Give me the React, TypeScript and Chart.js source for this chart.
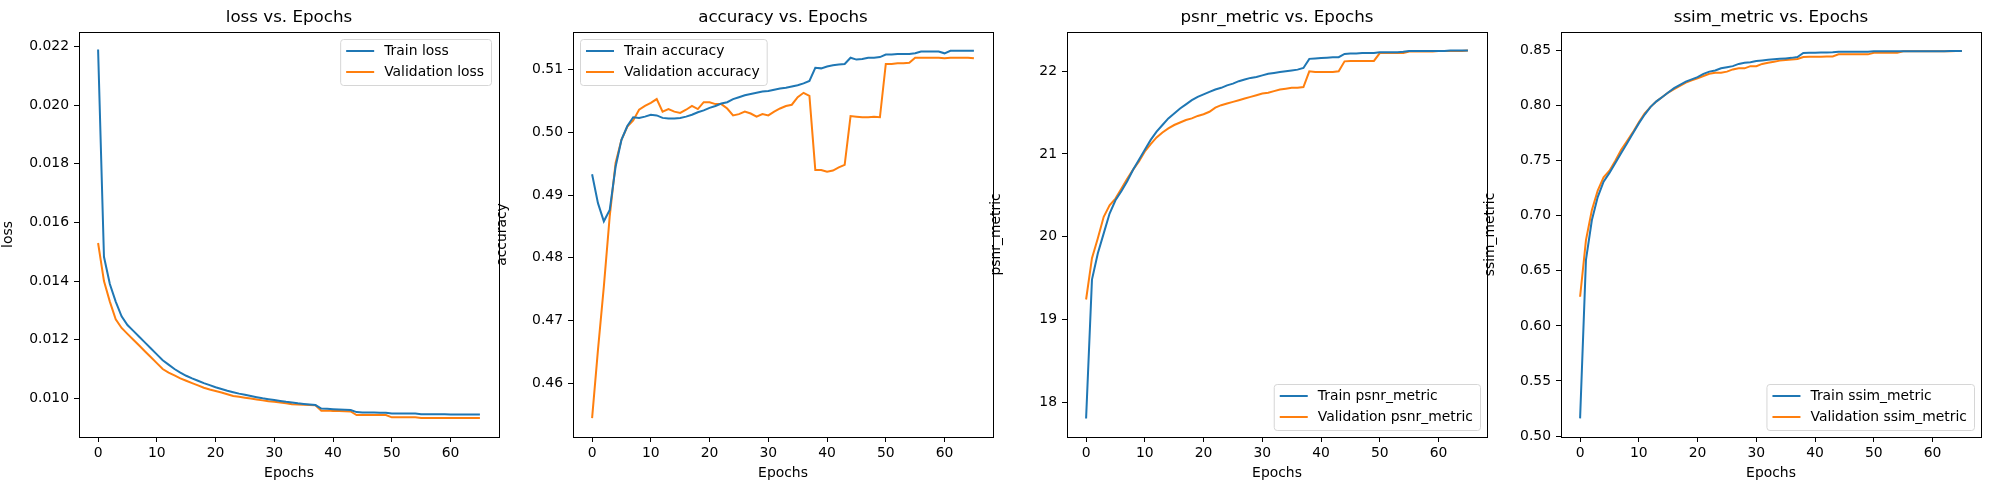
import React, { useEffect, useRef } from 'react';
import { Chart, registerables } from 'chart.js';

Chart.register(...registerables);

const epochs = Array.from({ length: 66 }, (_, i) => i);

const trainLoss = [
  0.0219, 0.01483, 0.0139, 0.0133, 0.0128, 0.0125, 0.0123, 0.0121, 0.0119, 0.0117,
  0.0115, 0.0113, 0.01115, 0.011, 0.01088, 0.01077, 0.01068, 0.0106, 0.01052, 0.01045,
  0.01038, 0.01032, 0.01026, 0.01021, 0.01016, 0.01012, 0.01008, 0.01004, 0.01, 0.00997,
  0.00994, 0.00991, 0.00988, 0.00986, 0.00983, 0.00981, 0.00979, 0.00977, 0.00965, 0.00964,
  0.00963, 0.00962, 0.00961, 0.0096, 0.00953, 0.00952, 0.00952, 0.00952, 0.00951, 0.00951,
  0.00948, 0.00948, 0.00948, 0.00948, 0.00948, 0.00946, 0.00946, 0.00946, 0.00946, 0.00946,
  0.00945, 0.00945, 0.00945, 0.00945, 0.00945, 0.00945,
];
const valLoss = [
  0.0153, 0.014, 0.0133, 0.0127, 0.0124, 0.0122, 0.012, 0.0118, 0.0116, 0.0114,
  0.0112, 0.011, 0.01088, 0.01078, 0.01068, 0.0106, 0.01052, 0.01044, 0.01036, 0.0103,
  0.01025, 0.0102, 0.01014, 0.01008, 0.01005, 0.01002, 0.00999, 0.00996, 0.00993, 0.0099,
  0.00988, 0.00986, 0.00983, 0.0098, 0.00979, 0.00978, 0.00977, 0.00976, 0.00958, 0.00958,
  0.00957, 0.00957, 0.00956, 0.00955, 0.00943, 0.00943, 0.00943, 0.00943, 0.00943, 0.00943,
  0.00935, 0.00935, 0.00935, 0.00935, 0.00935, 0.00933, 0.00933, 0.00933, 0.00933, 0.00933,
  0.00933, 0.00933, 0.00933, 0.00933, 0.00933, 0.00933,
];
const trainAcc = [
  0.4933, 0.4887, 0.4858, 0.4876, 0.4945, 0.4988, 0.501, 0.5024, 0.5023, 0.5025,
  0.5028, 0.5027, 0.5023, 0.5022, 0.5022, 0.5023, 0.5025, 0.5028, 0.5032, 0.5035,
  0.5039, 0.5042, 0.5046, 0.5048, 0.5053, 0.5056, 0.5059, 0.5061, 0.5063, 0.5065,
  0.5066, 0.5068, 0.507, 0.5071, 0.5073, 0.5075, 0.5078, 0.5082, 0.5103, 0.5102,
  0.5105, 0.5107, 0.5108, 0.5109, 0.5119, 0.5116, 0.5117, 0.5119, 0.5119, 0.512,
  0.5124, 0.5124, 0.5125, 0.5125, 0.5125, 0.5126, 0.5129, 0.5129, 0.5129, 0.5129,
  0.5126, 0.513, 0.513, 0.513, 0.513, 0.513,
];
const valAcc = [
  0.4544, 0.4653, 0.4754, 0.4866, 0.4951, 0.4988, 0.5009, 0.5019, 0.5036, 0.5042,
  0.5047, 0.5053, 0.5033, 0.5037, 0.5033, 0.5031, 0.5036, 0.5042, 0.5037, 0.5048,
  0.5048, 0.5045, 0.5045, 0.5038, 0.5027, 0.5029, 0.5033, 0.503, 0.5025, 0.5029,
  0.5027, 0.5033, 0.5038, 0.5042, 0.5044, 0.5056, 0.5063, 0.5058, 0.494, 0.494,
  0.4937, 0.4939, 0.4944, 0.4948, 0.5026, 0.5025, 0.5024, 0.5024, 0.5025, 0.5024,
  0.5109, 0.5109, 0.511, 0.511, 0.5111, 0.5119, 0.5119, 0.5119, 0.5119, 0.5119,
  0.5118, 0.5119, 0.5119, 0.5119, 0.5119, 0.5118,
];
const trainPsnr = [
  17.8, 19.48, 19.8, 20.04, 20.28, 20.44, 20.55, 20.67, 20.81, 20.93,
  21.05, 21.17, 21.27, 21.35, 21.43, 21.49, 21.55, 21.6, 21.65, 21.69,
  21.72, 21.75, 21.78, 21.8, 21.83, 21.85, 21.88, 21.9, 21.92, 21.93,
  21.95, 21.97, 21.98, 21.99, 22.0, 22.01, 22.02, 22.04, 22.15, 22.155,
  22.16, 22.165, 22.17, 22.17, 22.21, 22.215, 22.215, 22.22, 22.22, 22.22,
  22.23, 22.23, 22.23, 22.23, 22.235, 22.245, 22.245, 22.245, 22.245, 22.245,
  22.245, 22.245, 22.25, 22.25, 22.25, 22.25,
];
const valPsnr = [
  19.24, 19.74, 19.98, 20.24, 20.38, 20.46, 20.58, 20.7, 20.81, 20.91,
  21.03, 21.12, 21.2, 21.26, 21.31, 21.35, 21.38, 21.41, 21.43, 21.46,
  21.48, 21.51, 21.56, 21.59, 21.61, 21.63, 21.65, 21.67, 21.69, 21.71,
  21.73, 21.74, 21.76, 21.78, 21.79, 21.8, 21.8, 21.81, 22.0, 21.99,
  21.99, 21.99, 21.99, 22.0, 22.12, 22.125, 22.125, 22.125, 22.125, 22.125,
  22.22, 22.22, 22.22, 22.22, 22.22, 22.24, 22.24, 22.24, 22.24, 22.24,
  22.245, 22.245, 22.245, 22.245, 22.245, 22.25,
];
const trainSsim = [
  0.516, 0.66, 0.696, 0.717, 0.731, 0.739, 0.748, 0.757, 0.766, 0.775,
  0.784, 0.792, 0.799, 0.804, 0.808, 0.812, 0.816, 0.819, 0.822, 0.824,
  0.826, 0.829, 0.831, 0.832, 0.834, 0.835, 0.836, 0.838, 0.839, 0.8395,
  0.8406, 0.8412, 0.8418, 0.8422, 0.8426, 0.843, 0.8435, 0.8443, 0.848, 0.8482,
  0.8482, 0.8483, 0.8484, 0.8485, 0.849, 0.849, 0.849, 0.849, 0.849, 0.849,
  0.8494, 0.8494, 0.8494, 0.8494, 0.8494, 0.8494, 0.8494, 0.8494, 0.8494, 0.8494,
  0.8495, 0.8496, 0.8496, 0.8497, 0.8497, 0.8497,
];
const valSsim = [
  0.6265, 0.678, 0.705, 0.723, 0.735, 0.741, 0.75, 0.76, 0.768, 0.776,
  0.785, 0.793, 0.799, 0.804, 0.808, 0.812, 0.815, 0.818, 0.821, 0.823,
  0.825, 0.827, 0.829, 0.83, 0.83, 0.831, 0.833, 0.834, 0.834, 0.836,
  0.836, 0.838, 0.839, 0.84, 0.841, 0.8415, 0.842, 0.8425, 0.8443, 0.8446,
  0.8446, 0.8446, 0.8448, 0.8448, 0.8467, 0.8467, 0.8467, 0.8467, 0.8467, 0.8467,
  0.8482, 0.8482, 0.8482, 0.8482, 0.8482, 0.8494, 0.8494, 0.8494, 0.8494, 0.8494,
  0.8494, 0.8495, 0.8495, 0.8496, 0.8497, 0.8497,
];

const xTicks = [0, 10, 20, 30, 40, 50, 60];
const lossTicks = [0.01, 0.012, 0.014, 0.016, 0.018, 0.02, 0.022];
const accTicks = [0.46, 0.47, 0.48, 0.49, 0.5, 0.51];
const psnrTicks = [18, 19, 20, 21, 22];
const ssimTicks = [0.5, 0.55, 0.6, 0.65, 0.7, 0.75, 0.8, 0.85];

type Panel = {
  metric: string;
  train: number[];
  val: number[];
  ticks: number[];
  decimals: number;
  min: number;
  max: number;
  legend: 'ur' | 'ul' | 'lr';
  plotLeft: number;
};

const panels: Panel[] = [
  { metric: 'loss', train: trainLoss, val: valLoss, ticks: lossTicks, decimals: 3, min: 0.00868, max: 0.0225, legend: 'ur', plotLeft: 79 },
  { metric: 'accuracy', train: trainAcc, val: valAcc, ticks: accTicks, decimals: 2, min: 0.4514, max: 0.516, legend: 'ul', plotLeft: 573 },
  { metric: 'psnr_metric', train: trainPsnr, val: valPsnr, ticks: psnrTicks, decimals: 0, min: 17.577, max: 22.475, legend: 'lr', plotLeft: 1067 },
  { metric: 'ssim_metric', train: trainSsim, val: valSsim, ticks: ssimTicks, decimals: 2, min: 0.4991, max: 0.867, legend: 'lr', plotLeft: 1561 },
];

const FONT = "'DejaVu Sans', sans-serif";
const BLUE = '#1f77b4';
const ORANGE = '#ff7f0e';

function PanelChart({ p }: { p: Panel }): React.JSX.Element {
  const canvasRef = useRef<HTMLCanvasElement | null>(null);

  useEffect(() => {
    if (!canvasRef.current) return;
    const labels = [`Train ${p.metric}`, `Validation ${p.metric}`];

    const framePlugin = {
      id: 'frame',
      afterDraw(chart: Chart) {
        const { ctx, chartArea: a } = chart;
        ctx.save();
        ctx.strokeStyle = '#000';
        ctx.lineWidth = 1;
        ctx.strokeRect(Math.round(a.left) + 0.5, Math.round(a.top) + 0.5, Math.round(a.right - a.left), Math.round(a.bottom - a.top));
        // title
        ctx.fillStyle = '#000';
        ctx.font = `16.7px ${FONT}`;
        ctx.textAlign = 'center';
        ctx.textBaseline = 'middle';
        ctx.fillText(`${p.metric} vs. Epochs`, (a.left + a.right) / 2, 18);
        // legend
        ctx.font = `13.9px ${FONT}`;
        const textW = Math.max(...labels.map((l) => ctx.measureText(l).width));
        const w = 6 + 28 + 10 + textW + 7;
        const h = 46;
        let bx = a.right - 8 - w;
        let by = a.top + 7;
        if (p.legend === 'ul') bx = a.left + 7;
        if (p.legend === 'lr') {
          bx = a.right - 7 - w;
          by = a.bottom - 7 - h;
        }
        ctx.beginPath();
        ctx.roundRect(bx + 0.5, by + 0.5, w, h, 3);
        ctx.fillStyle = 'rgba(255,255,255,0.8)';
        ctx.fill();
        ctx.strokeStyle = '#d6d6d6';
        ctx.stroke();
        ctx.textAlign = 'left';
        [BLUE, ORANGE].forEach((c, i) => {
          const cy = by + 12 + i * 21;
          ctx.strokeStyle = c;
          ctx.lineWidth = 2;
          ctx.beginPath();
          ctx.moveTo(bx + 6, cy);
          ctx.lineTo(bx + 34, cy);
          ctx.stroke();
          ctx.fillStyle = '#000';
          ctx.fillText(labels[i], bx + 44, cy);
        });
        ctx.restore();
      },
    };

    const chart = new Chart(canvasRef.current, {
      type: 'line',
      data: {
        labels: epochs,
        datasets: [
          { label: labels[0], data: epochs.map((e, i) => ({ x: e, y: p.train[i] })), borderColor: BLUE, borderWidth: 2, pointRadius: 0, fill: false, tension: 0 },
          { label: labels[1], data: epochs.map((e, i) => ({ x: e, y: p.val[i] })), borderColor: ORANGE, borderWidth: 2, pointRadius: 0, fill: false, tension: 0 },
        ],
      },
      options: {
        responsive: false,
        animation: false,
        devicePixelRatio: 1,
        layout: { padding: { top: 32, right: 10, left: 0, bottom: 0 } },
        plugins: { legend: { display: false }, title: { display: false }, tooltip: { enabled: false } },
        scales: {
          x: {
            type: 'linear',
            min: -3.25,
            max: 68.25,
            afterBuildTicks: (s: any) => { s.ticks = xTicks.map((v) => ({ value: v })); },
            afterFit: (s: any) => { s.height = 53; },
            border: { display: false },
            grid: { display: true, drawOnChartArea: false, drawTicks: true, tickLength: 5, tickColor: '#000' },
            ticks: { color: '#000', font: { family: FONT, size: 13.9 }, padding: 3, maxRotation: 0 },
            title: { display: true, text: 'Epochs', color: '#000', font: { family: FONT, size: 13.9 }, padding: { top: 0, bottom: 8 } },
          },
          y: {
            type: 'linear',
            min: p.min,
            max: p.max,
            afterBuildTicks: (s: any) => { s.ticks = p.ticks.map((v) => ({ value: v })); },
            afterFit: (s: any) => { s.width = 79; },
            border: { display: false },
            grid: { display: true, drawOnChartArea: false, drawTicks: true, tickLength: 5, tickColor: '#000' },
            ticks: { color: '#000', font: { family: FONT, size: 13.9 }, padding: 5, callback: (v: any) => Number(v).toFixed(p.decimals) },
            title: { display: true, text: p.metric, color: '#000', font: { family: FONT, size: 13.9 }, padding: { top: 0, bottom: 8 } },
          },
        },
      },
      plugins: [framePlugin],
    });
    return () => chart.destroy();
  }, [p]);

  return (
    <canvas
      ref={canvasRef}
      width={509}
      height={490}
      style={{ position: 'absolute', left: p.plotLeft - 79, top: 0, width: 509, height: 490 }}
    />
  );
}

export default function App(): React.JSX.Element {
  return (
    <div style={{ position: 'fixed', left: 0, top: 0, width: 1990, height: 490, background: '#fff' }}>
      {panels.map((p) => (
        <PanelChart key={p.metric} p={p} />
      ))}
    </div>
  );
}
